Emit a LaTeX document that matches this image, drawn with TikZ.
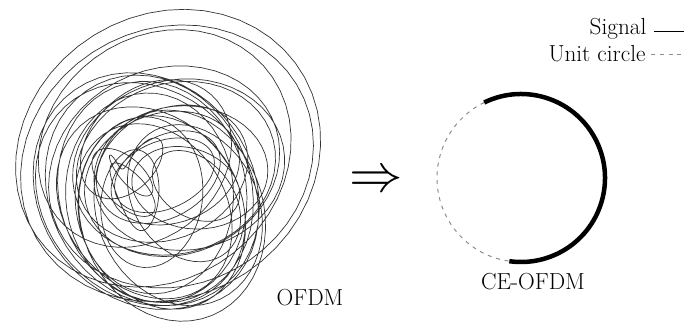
\documentclass[tikz,border=0pt]{standalone}
\usepackage{amsmath,amssymb}
\usepackage{tikz}
\usetikzlibrary{positioning,calc}

% OFDM trajectory: loops of several subcarriers plus slow drift
\pgfmathdeclarefunction{ofdmx}{1}{%
  \pgfmathparse{1.4*cos(30*#1)+0.9*cos(28*#1+70)+0.7*cos(33*#1+160)+0.5*cos(26*#1+250)+0.2*cos(-29*#1+20)+0.5*cos(#1+40)+0.3*cos(3*#1+200)}}
\pgfmathdeclarefunction{ofdmy}{1}{%
  \pgfmathparse{1.4*sin(30*#1)+0.9*sin(28*#1+70)+0.7*sin(33*#1+160)+0.5*sin(26*#1+250)+0.2*sin(-29*#1+20)+0.5*sin(#1+40)+0.3*sin(3*#1+200)}}

\begin{document}
\begin{tikzpicture}[lbl/.style={font=\fontsize{16.5}{20}\selectfont, inner sep=1pt}]
  \useasboundingbox (0,0) rectangle (17.1,-8.175);

  % OFDM signal in the complex plane
  \coordinate (oc) at (3.975,-4.575);
  \begin{scope}[shift={(oc)}, scale=1.15]
    \draw[black!80, line width=0.5pt, line join=round] plot[domain=0:360, samples=1500] ({ofdmx(\x)},{ofdmy(\x)});
  \end{scope}
  \node[lbl] (ofdm) at (7.75,-7.43) {OFDM};

  % Implication arrow
  \node[inner sep=0pt, scale=3.8] (impl) at (9.4,-4.55) {$\Rightarrow$};

  % Constant envelope signal on the unit circle
  \coordinate (ce) at (13.025,-4.45);
  \draw[black!45, line width=0.7pt, dash pattern=on 2.8pt off 3.4pt] (ce) ++(116:2.1) arc[start angle=116, end angle=262, radius=2.1];
  \draw[black, line width=3.2pt] (ce) ++(116:2.1) arc[start angle=116, end angle=-98, radius=2.1];
  \node[lbl] (ceofdm) at (13.325,-7.05) {CE-OFDM};

  % Legend
  \node[lbl, anchor=east] (sig) at (16.2,-0.72) {Signal};
  \node[lbl, anchor=east] (uc) at (16.18,-1.33) {Unit circle};
  \coordinate (sigend) at (17.1,-0.78);
  \coordinate (ucend) at (17.1,-1.36);
  \draw[black, line width=0.8pt] (sig.east) ++(0.15,-0.06) -- (sigend);
  \draw[black!45, line width=0.7pt, dash pattern=on 2.8pt off 3.4pt] (uc.east) ++(0.1,-0.03) -- (ucend);
\end{tikzpicture}
\end{document}
